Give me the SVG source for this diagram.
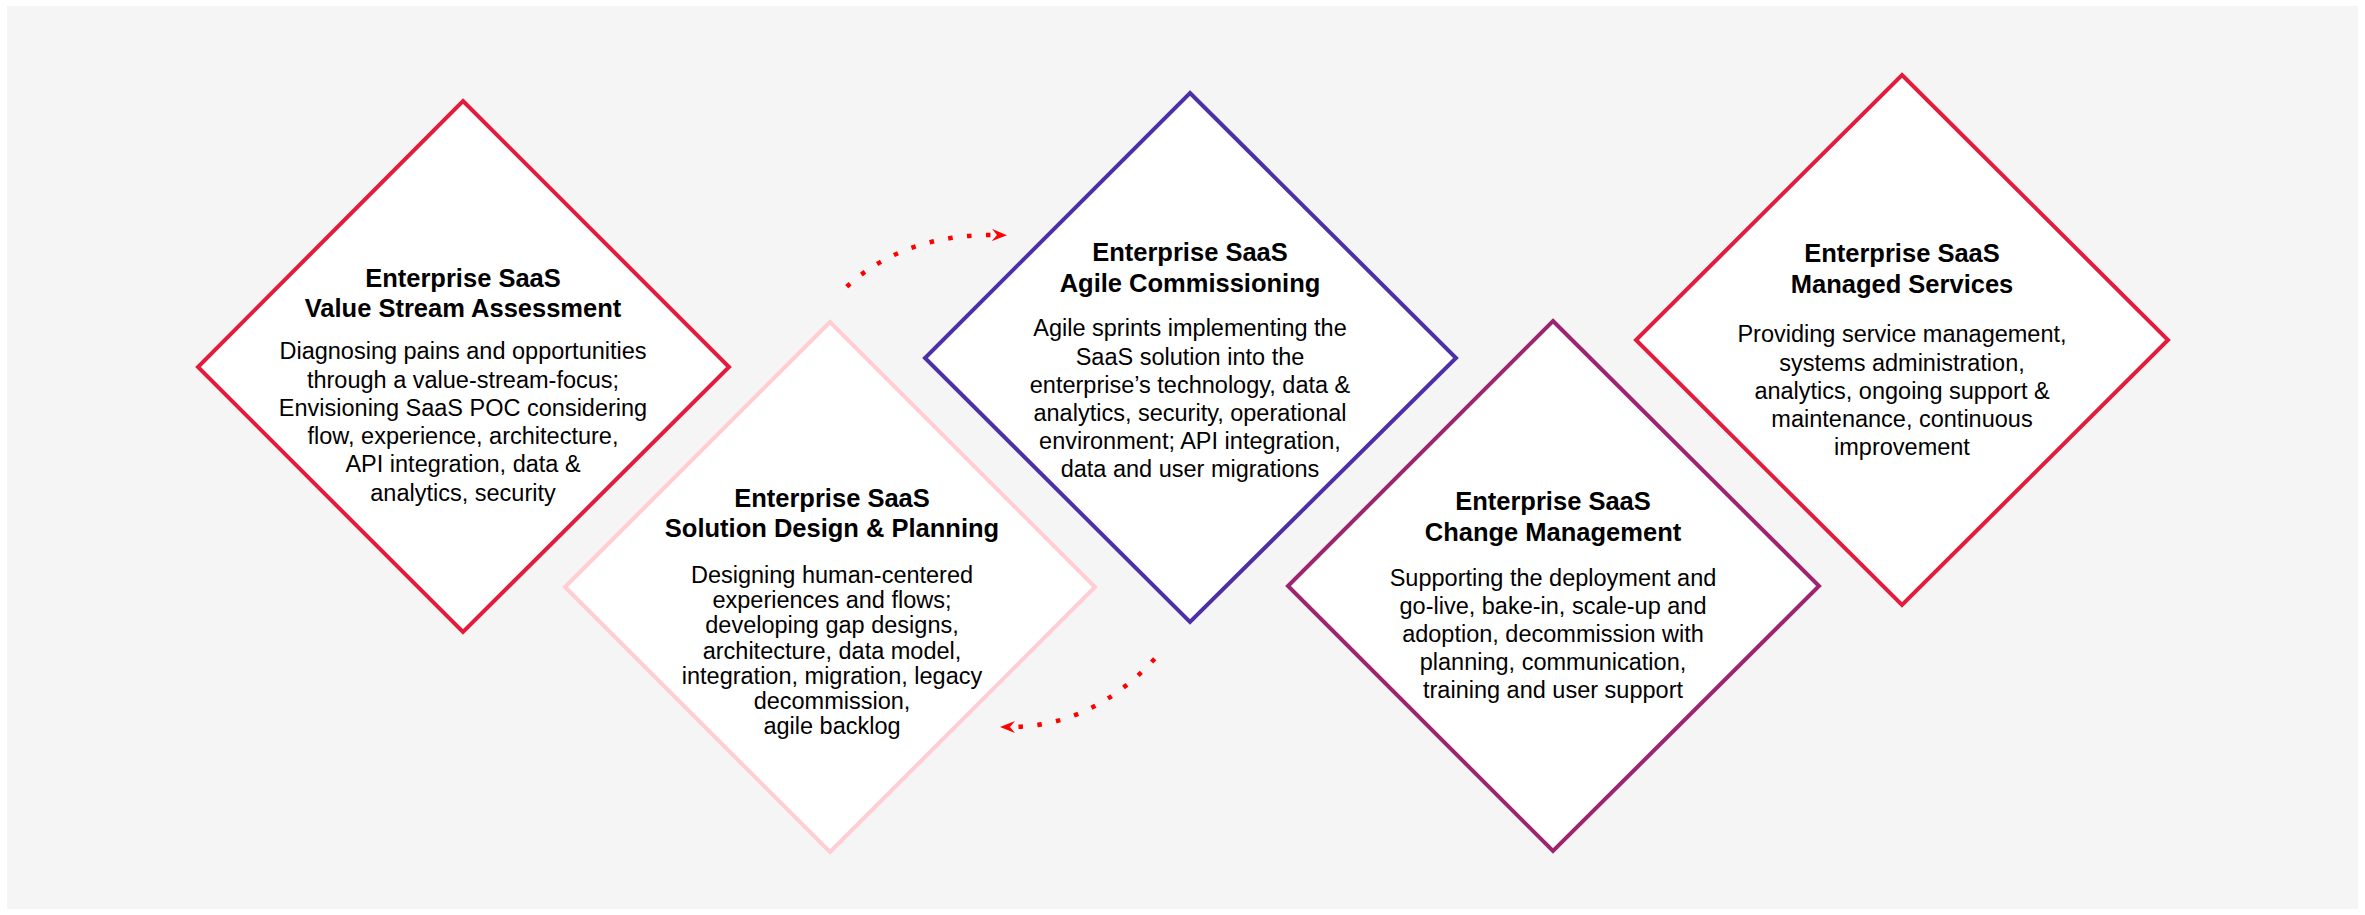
<svg xmlns="http://www.w3.org/2000/svg" width="2365" height="915" viewBox="0 0 2365 915">
<style>
.d{fill:#FFFFFF;stroke-width:4;stroke-linejoin:miter}
.t{font-family:"Liberation Sans",Arial,sans-serif;font-size:25.5px;font-weight:bold;fill:#000;text-anchor:middle}
.b{font-family:"Liberation Sans",Arial,sans-serif;font-size:23.5px;fill:#000;text-anchor:middle}
.c{fill:none;stroke:#FF0000;stroke-width:4.5;stroke-dasharray:4.5 14.5}
</style>
<defs>
<marker id="ah" markerUnits="userSpaceOnUse" viewBox="0 0 15 12" refX="5" refY="6" markerWidth="15" markerHeight="12" orient="auto">
<path d="M0,0 L15,6 L0,12 L5,6 Z" fill="#FF0000"/>
</marker>
</defs>
<rect x="0" y="0" width="2365" height="915" fill="#FFFFFF"/>
<rect x="7" y="6" width="2351" height="903" fill="#F5F5F5"/>

<g id="n1">
<polygon class="d" stroke="#E31B3C" points="463,101 729,367 463,632 198,367"/>
<text class="t" x="463" y="286.5">Enterprise SaaS</text>
<text class="t" x="463" y="317">Value Stream Assessment</text>
<text class="b" x="463" y="359.3">Diagnosing pains and opportunities</text>
<text class="b" x="463" y="387.5">through a value-stream-focus;</text>
<text class="b" x="463" y="415.8">Envisioning SaaS POC considering</text>
<text class="b" x="463" y="444">flow, experience, architecture,</text>
<text class="b" x="463" y="472.3">API integration, data &amp;</text>
<text class="b" x="463" y="500.6">analytics, security</text>
</g>

<g id="n2">
<polygon class="d" stroke="#FFCDD2" points="830,322 1095,587 830,852 565,587"/>
<text class="t" x="832" y="506.5">Enterprise SaaS</text>
<text class="t" x="832" y="537">Solution Design &amp; Planning</text>
<text class="b" x="832" y="582.6">Designing human-centered</text>
<text class="b" x="832" y="607.9">experiences and flows;</text>
<text class="b" x="832" y="633.2">developing gap designs,</text>
<text class="b" x="832" y="658.5">architecture, data model,</text>
<text class="b" x="832" y="683.8">integration, migration, legacy</text>
<text class="b" x="832" y="709.1">decommission,</text>
<text class="b" x="832" y="734.4">agile backlog</text>
</g>

<g id="n3">
<polygon class="d" stroke="#4B30A8" points="1190,93 1456,358 1190,622 925,358"/>
<text class="t" x="1190" y="261.3">Enterprise SaaS</text>
<text class="t" x="1190" y="291.5">Agile Commissioning</text>
<text class="b" x="1190" y="336.4">Agile sprints implementing the</text>
<text class="b" x="1190" y="364.5">SaaS solution into the</text>
<text class="b" x="1190" y="392.6">enterprise’s technology, data &amp;</text>
<text class="b" x="1190" y="420.7">analytics, security, operational</text>
<text class="b" x="1190" y="448.8">environment; API integration,</text>
<text class="b" x="1190" y="476.9">data and user migrations</text>
</g>

<g id="n4">
<polygon class="d" stroke="#9E2470" points="1553,321 1819,586 1553,851 1288,586"/>
<text class="t" x="1553" y="509.8">Enterprise SaaS</text>
<text class="t" x="1553" y="540.5">Change Management</text>
<text class="b" x="1553" y="586.3">Supporting the deployment and</text>
<text class="b" x="1553" y="614.3">go-live, bake-in, scale-up and</text>
<text class="b" x="1553" y="642.3">adoption, decommission with</text>
<text class="b" x="1553" y="670.3">planning, communication,</text>
<text class="b" x="1553" y="698.3">training and user support</text>
</g>

<g id="n5">
<polygon class="d" stroke="#E31B3C" points="1902,75 2168,340 1902,605 1636,340"/>
<text class="t" x="1902" y="262">Enterprise SaaS</text>
<text class="t" x="1902" y="293">Managed Services</text>
<text class="b" x="1902" y="342.3">Providing service management,</text>
<text class="b" x="1902" y="370.5">systems administration,</text>
<text class="b" x="1902" y="398.7">analytics, ongoing support &amp;</text>
<text class="b" x="1902" y="426.9">maintenance, continuous</text>
<text class="b" x="1902" y="455.1">improvement</text>
</g>

<g id="connectors">
<path class="c" d="M846.7,286.7 Q905,233.5 997,235" marker-end="url(#ah)"/>
<path class="c" d="M1154.7,658.7 Q1092,727 1010,727" marker-end="url(#ah)"/>
</g>
</svg>
